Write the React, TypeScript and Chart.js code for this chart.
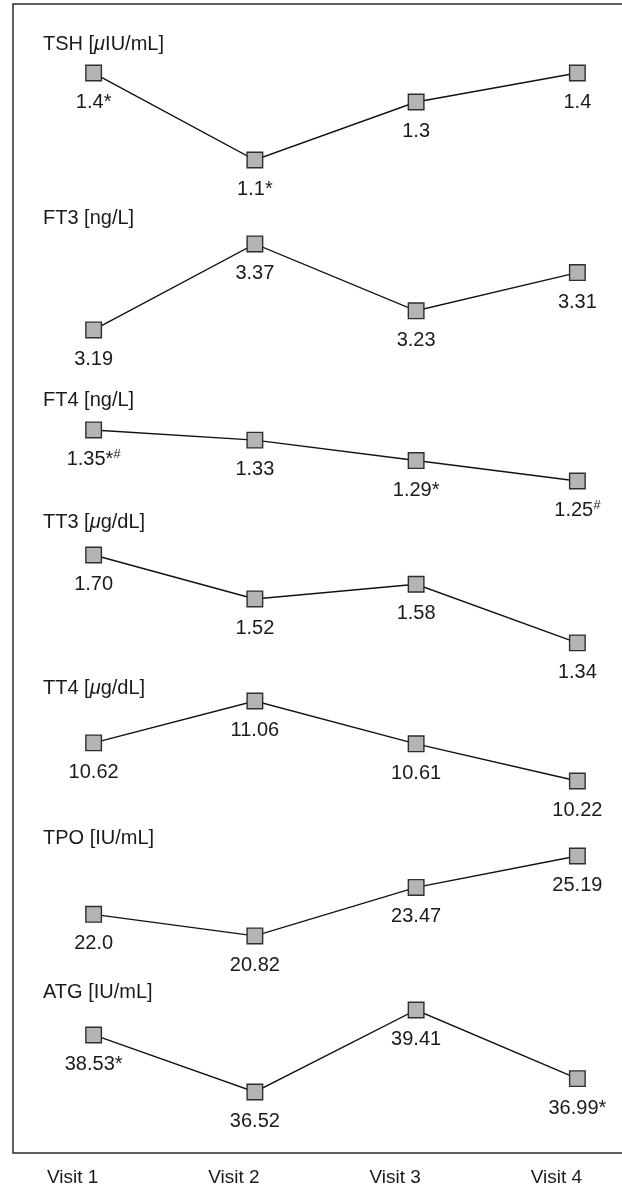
import React, { useEffect, useRef } from 'react';
import { Chart, registerables } from 'chart.js';

Chart.register(...registerables);

// ---- data ----
const VISITS = ['Visit 1', 'Visit 2', 'Visit 3', 'Visit 4'];
const PANEL_TITLES = ['TSH [μIU/mL]', 'FT3 [ng/L]', 'FT4 [ng/L]', 'TT3 [μg/dL]', 'TT4 [μg/dL]', 'TPO [IU/mL]', 'ATG [IU/mL]'];
const TSH = [1.4, 1.1, 1.3, 1.4];
const FT3 = [3.19, 3.37, 3.23, 3.31];
const FT4 = [1.35, 1.33, 1.29, 1.25];
const TT3 = [1.7, 1.52, 1.58, 1.34];
const TT4 = [10.62, 11.06, 10.61, 10.22];
const TPO = [22.0, 20.82, 23.47, 25.19];
const ATG = [38.53, 36.52, 39.41, 36.99];
const SERIES = [TSH, FT3, FT4, TT3, TT4, TPO, ATG];
// decimals shown for each value label
const DECIMALS = [
  [1, 1, 1, 1],
  [2, 2, 2, 2],
  [2, 2, 2, 2],
  [2, 2, 2, 2],
  [2, 2, 2, 2],
  [1, 2, 2, 2],
  [2, 2, 2, 2],
];
// significance marks after value labels
const MARKS = [
  ['*', '*', '', ''],
  ['', '', '', ''],
  ['*#', '', '*', '#'],
  ['', '', '', ''],
  ['', '', '', ''],
  ['', '', '', ''],
  ['*', '', '', '*'],
];
// per-panel axis range [min, max]
const AXIS_RANGES = [
  [1.038, 1.638],
  [3.127, 3.508],
  [1.248, 1.487],
  [1.319, 1.999],
  [10.041, 11.617],
  [19.94, 28.36],
  [34.369, 41.454],
];
const PANEL_WEIGHTS = [174, 182, 122, 166, 150, 154, 201];

const FONT_FAMILY = '"Liberation Sans", Arial, sans-serif';
const TEXT_COLOR = '#1a1a1a';
const FONT_SIZE = 20;
const TICK_FONT_SIZE = 19;

const boxPlugin = {
  id: 'panelBox',
  afterDraw(chart: any) {
    const { ctx, chartArea } = chart;
    ctx.save();
    ctx.strokeStyle = '#2a2a2a';
    ctx.lineWidth = 1.5;
    ctx.strokeRect(chartArea.left, chartArea.top, chartArea.right - chartArea.left, chartArea.bottom - chartArea.top);
    ctx.restore();
  },
};

function drawMixed(ctx: CanvasRenderingContext2D, text: string, x: number, y: number, size: number) {
  // draws text where μ is italic
  const parts = text.split(/(μ)/);
  let cx = x;
  for (const p of parts) {
    if (!p) continue;
    ctx.font = (p === 'μ' ? 'italic ' : '') + size + 'px ' + FONT_FAMILY;
    ctx.fillText(p, cx, y);
    cx += ctx.measureText(p).width;
  }
}

const titlePlugin = {
  id: 'panelTitles',
  afterDraw(chart: any) {
    const { ctx } = chart;
    ctx.save();
    ctx.fillStyle = TEXT_COLOR;
    ctx.textAlign = 'left';
    ctx.textBaseline = 'alphabetic';
    PANEL_TITLES.forEach((t, i) => {
      const s = chart.scales['y' + i];
      drawMixed(ctx, t, chart.chartArea.left + 30, s.top + 46, FONT_SIZE);
    });
    ctx.restore();
  },
};

const valueLabelPlugin = {
  id: 'valueLabels',
  afterDatasetsDraw(chart: any) {
    const { ctx } = chart;
    ctx.save();
    ctx.fillStyle = TEXT_COLOR;
    ctx.textBaseline = 'alphabetic';
    ctx.textAlign = 'left';
    SERIES.forEach((vals, i) => {
      const meta = chart.getDatasetMeta(i);
      meta.data.forEach((pt: any, j: number) => {
        const main = vals[j].toFixed(DECIMALS[i][j]);
        const mark = MARKS[i][j];
        const mainFont = FONT_SIZE + 'px ' + FONT_FAMILY;
        const supFont = 'italic 13px ' + FONT_FAMILY;
        const segs: { t: string; font: string; dy: number }[] = [{ t: main, font: mainFont, dy: 0 }];
        for (const c of mark) {
          if (c === '*') segs.push({ t: '*', font: mainFont, dy: 0 });
          else segs.push({ t: c, font: supFont, dy: -7 });
        }
        let w = 0;
        for (const sg of segs) {
          ctx.font = sg.font;
          w += ctx.measureText(sg.t).width;
        }
        let x = pt.x - w / 2;
        const y = pt.y + 35;
        for (const sg of segs) {
          ctx.font = sg.font;
          ctx.fillText(sg.t, x, y + sg.dy);
          x += ctx.measureText(sg.t).width;
        }
      });
    });
    ctx.restore();
  },
};

export default function App() {
  const ref = useRef<HTMLCanvasElement | null>(null);

  useEffect(() => {
    document.body.style.margin = '0';
    const canvas = ref.current;
    if (!canvas) return;

    const yScales: any = {};
    AXIS_RANGES.forEach((r, i) => {
      yScales['y' + i] = {
        type: 'linear',
        display: false,
        position: 'right',
        stack: 'panels',
        stackWeight: PANEL_WEIGHTS[i],
        min: r[0],
        max: r[1],
      };
    });

    const chart = new Chart(canvas, {
      type: 'line',
      data: {
        labels: VISITS,
        datasets: SERIES.map((vals, i) => ({
          label: PANEL_TITLES[i],
          data: vals,
          yAxisID: 'y' + i,
          borderColor: '#111111',
          borderWidth: 1.4,
          pointStyle: 'rect',
          pointRadius: 11,
          pointHoverRadius: 11,
          pointBackgroundColor: '#b4b4b4',
          pointBorderColor: '#2e2e2e',
          pointBorderWidth: 1.4,
          tension: 0,
          clip: false as any,
        })),
      },
      options: {
        responsive: false,
        animation: false,
        events: [],
        layout: { autoPadding: false, padding: { left: 13, right: 22, top: 4, bottom: 0 } },
        plugins: {
          legend: { display: false },
          tooltip: { enabled: false },
          title: { display: false },
        },
        scales: {
          x: {
            type: 'category',
            offset: true,
            position: 'bottom',
            grid: { display: false },
            border: { display: false },
            ticks: {
              color: TEXT_COLOR,
              font: { family: FONT_FAMILY, size: TICK_FONT_SIZE },
              labelOffset: -21,
              padding: 5,
              maxRotation: 0,
              autoSkip: false,
            },
            afterFit: (scale: any) => {
              scale.height = 31;
            },
          },
          ...yScales,
        },
      },
      plugins: [boxPlugin, titlePlugin, valueLabelPlugin],
    });

    return () => chart.destroy();
  }, []);

  return (
    <div style={{ position: 'absolute', left: 0, top: 0, width: 622, height: 1184, overflow: 'hidden', background: '#fff' }}>
      <canvas ref={ref} width={680} height={1184} style={{ display: 'block', width: 680, height: 1184 }} />
    </div>
  );
}
